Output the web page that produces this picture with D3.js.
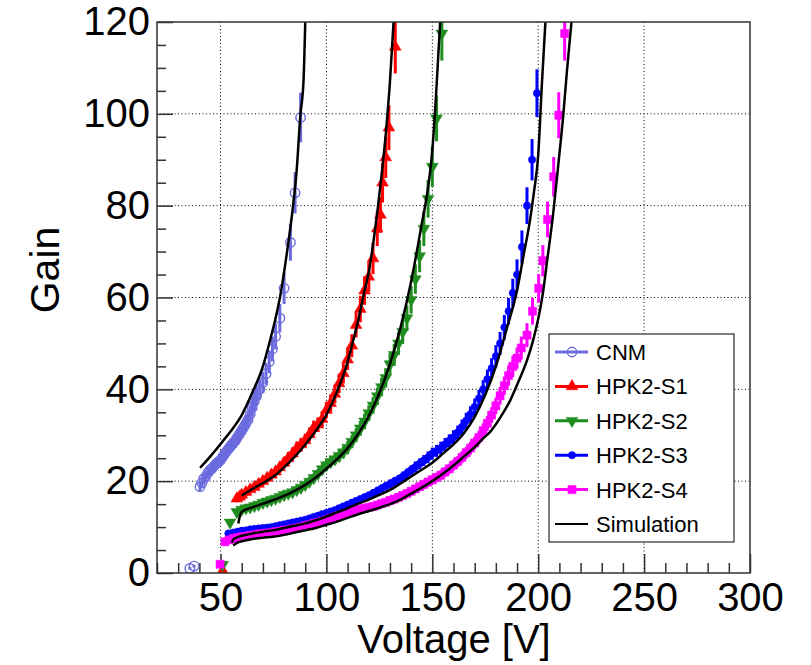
<!DOCTYPE html>
<html>
<head>
<meta charset="utf-8">
<script src="https://cdn.jsdelivr.net/npm/d3@7"></script>
<style>
  body { margin: 0; background: #fff; }
  text { font-family: "Liberation Sans", Arial, Helvetica, sans-serif; }
</style>
</head>
<body>
<svg width="811" height="665"></svg>
<script>
// measured points: [voltage, gain, error]
var cnmData = [[35.5,1.0,0.3],[37.5,1.5,0.3],[40.3,18.8,1.0],[41.2,19.6,1.1],[42,20.5,1.1],[43,21.0,1.2],[44,21.8,1.2],[45,22.4,1.2],[46,22.8,1.3],[47,23.3,1.3],[48,23.8,1.3],[49,24.2,1.3],[50,24.6,1.4],[51,25.3,1.4],[52,26.0,1.4],[53,26.6,1.5],[54,27.2,1.5],[55,27.8,1.5],[56,28.3,1.6],[57,28.8,1.6],[58,29.6,1.6],[59,30.3,1.7],[60,31.0,1.7],[61,31.8,1.7],[62,32.6,1.8],[63,33.4,1.8],[64,34.6,1.9],[65,36.0,2.0],[66,37.4,2.1],[67,38.6,2.1],[68.5,40.0,2.2],[70,41.5,2.3],[71.5,43.4,2.4],[73,46.0,2.5],[74.5,48.8,2.7],[76,51.5,2.8],[78,55.5,3.1],[80,62.0,3.4],[83,72.0,4.0],[85.2,82.8,4.5],[87.8,99.2,5.4]];

var s1Data = [[51,0.5,0.3],[57.7,16.2,0.8],[59,16.6,0.8],[60,17.0,0.9],[62,17.6,0.9],[64,18.2,0.9],[66,18.7,0.9],[68,19.4,1.0],[70,20.0,1.0],[72,20.7,1.0],[74,21.4,1.1],[76,22.1,1.1],[78,23.0,1.2],[80,24.0,1.2],[82,25.0,1.3],[84,26.0,1.3],[86,27.2,1.4],[88,28.0,1.4],[90,28.9,1.4],[92,30.2,1.5],[94,31.6,1.6],[96,32.3,1.6],[98,33.5,1.7],[100,35.5,1.8],[102,37.0,1.9],[104,39.0,2.0],[106,41.3,2.1],[108,43.5,2.2],[110,46.5,2.3],[112,49.5,2.5],[114,54.0,2.7],[116,57.5,2.9],[118,61.5,3.1],[120,64.5,3.2],[122,68.5,3.4],[124,75.0,3.8],[125.5,78.0,3.9],[126.5,85.0,4.3],[128,90.5,4.5],[129.5,97.0,4.9],[132.5,114.6,5.8]];

var s2Data = [[51,1.8,0.3],[54.5,11.0,0.6],[57.7,13.3,0.7],[60,13.8,0.7],[62,14.1,0.7],[64,14.3,0.7],[66,14.6,0.7],[68,14.9,0.7],[70,15.3,0.8],[72,15.6,0.8],[74,15.9,0.8],[76,16.2,0.8],[78,16.6,0.8],[80,17.0,0.9],[82,17.3,0.9],[84,17.6,0.9],[86,18.1,0.9],[88,18.6,0.9],[90,19.2,1.0],[92,19.9,1.0],[94,20.7,1.0],[96,21.6,1.1],[98,22.6,1.1],[100,23.5,1.2],[102,24.2,1.2],[104,24.8,1.2],[106,25.5,1.3],[108,26.3,1.3],[110,27.3,1.4],[112,28.6,1.4],[114,30.0,1.5],[116,31.5,1.6],[118,33.0,1.7],[120,34.8,1.7],[122,36.5,1.8],[124,38.5,1.9],[126,40.5,2.0],[128,42.5,2.1],[130,45.5,2.3],[132,47.5,2.4],[134,50.0,2.5],[136,52.5,2.6],[138,55.5,2.8],[140,59.5,3.0],[142,64.0,3.2],[144,69.0,3.5],[146,75.0,3.8],[148,81.5,4.1],[150,88.5,4.4],[152,99.0,5.0],[154.5,117.5,5.9]];

var s3Data = [[53.7,8.6,0.4],[56,8.8,0.4],[58,9.0,0.5],[60,9.2,0.5],[62,9.3,0.5],[64,9.5,0.5],[66,9.6,0.5],[68,9.7,0.5],[70,9.8,0.5],[72,9.9,0.5],[74,10.0,0.5],[76,10.2,0.5],[78,10.4,0.5],[80,10.6,0.5],[82,10.8,0.5],[84,11.0,0.6],[86,11.2,0.6],[88,11.4,0.6],[90,11.6,0.6],[92,11.9,0.6],[94,12.2,0.6],[96,12.5,0.6],[98,12.8,0.6],[100,13.1,0.7],[102,13.4,0.7],[104,13.7,0.7],[106,14.1,0.7],[108,14.5,0.7],[110,14.9,0.7],[112,15.3,0.8],[114,15.7,0.8],[116,16.1,0.8],[118,16.5,0.8],[120,16.9,0.8],[122,17.4,0.9],[124,17.9,0.9],[126,18.4,0.9],[128,18.9,0.9],[130,19.4,1.0],[132,19.9,1.0],[134,20.4,1.0],[136,21.0,1.1],[138,21.7,1.1],[140,22.4,1.1],[142,23.1,1.2],[144,23.8,1.2],[146,24.5,1.2],[148,25.2,1.3],[150,26.0,1.3],[152,26.6,1.3],[154,27.2,1.4],[156,28.0,1.4],[158,28.8,1.4],[160,29.6,1.5],[162,30.6,1.5],[164,31.8,1.6],[166,33.2,1.7],[168,34.6,1.7],[170,36.2,1.8],[172,38.0,1.9],[174,40.0,2.0],[176,42.2,2.1],[178,44.6,2.2],[180,47.2,2.4],[182,50.0,2.5],[184,53.5,2.7],[186,57.0,2.9],[188,61.0,3.1],[190,65.0,3.3],[192.3,71.0,3.6],[194.7,80.0,4.0],[197.1,90.0,4.5],[199.4,104.5,5.2]];

var s4Data = [[49.8,1.9,0.3],[52.1,6.8,0.4],[54,7.2,0.4],[56,7.5,0.4],[58,7.7,0.4],[60,7.9,0.4],[62,8.0,0.4],[64,8.2,0.4],[66,8.3,0.4],[68,8.5,0.4],[70,8.6,0.4],[72,8.7,0.4],[74,8.8,0.4],[76,9.0,0.5],[78,9.1,0.5],[80,9.3,0.5],[82,9.4,0.5],[84,9.6,0.5],[86,9.8,0.5],[88,10.0,0.5],[90,10.3,0.5],[92,10.5,0.5],[94,10.8,0.5],[96,11.0,0.6],[98,11.3,0.6],[100,11.6,0.6],[102,11.9,0.6],[104,12.2,0.6],[106,12.5,0.6],[108,12.8,0.6],[110,13.1,0.7],[112,13.4,0.7],[114,13.7,0.7],[116,13.9,0.7],[118,14.1,0.7],[120,14.3,0.7],[122,14.5,0.7],[124,14.8,0.7],[126,15.1,0.8],[128,15.4,0.8],[130,15.8,0.8],[132,16.1,0.8],[134,16.5,0.8],[136,16.9,0.8],[138,17.3,0.9],[140,17.8,0.9],[142,18.3,0.9],[144,18.8,0.9],[146,19.3,1.0],[148,19.8,1.0],[150,20.3,1.0],[152,20.8,1.0],[154,21.3,1.1],[156,22.0,1.1],[158,22.7,1.1],[160,23.5,1.2],[162,24.3,1.2],[164,25.2,1.3],[166,26.2,1.3],[168,27.2,1.4],[170,28.3,1.4],[172,29.5,1.5],[174,31.0,1.6],[176,32.6,1.6],[178,34.4,1.7],[180,36.4,1.8],[182,38.6,1.9],[184,40.8,2.0],[186,43.0,2.2],[188,45.0,2.3],[190,46.8,2.3],[192,49.0,2.5],[194.7,51.8,2.6],[197.3,57.0,2.9],[200.2,62.0,3.1],[202.2,68.0,3.4],[204.4,77.0,3.9],[207.3,86.3,4.3],[209.7,99.7,5.0],[212.5,117.5,5.9]];

// simulation curves: [voltage, gain]
var cnmSim = [[40.3,22.9],[45,25.3],[51.4,28.9],[55,31.0],[60,34.4],[64.8,39.1],[70,45.0],[73.4,50.7],[76,55.5],[78.1,60.1],[81.3,69.6],[84,79],[86,88],[87.6,99.2],[89.2,107.4],[90,120]];
var s1Sim = [[60,16.9],[65,18.3],[70,19.6],[75,21.0],[80,23.0],[85,25.3],[90,28.0],[95,31.0],[100,34.5],[105,39.5],[110,46.0],[112,49.5],[115,55.0],[118,61.5],[120,65.5],[122,71.5],[124,78.5],[126,86.5],[128,95.5],[130,107],[131.7,120]];
var s2Sim = [[58.4,10.8],[59.2,12.5],[60,13.3],[65,14.3],[70,15.1],[75,15.9],[80,16.8],[85,17.9],[90,19.2],[95,20.8],[100,22.7],[105,24.8],[110,27.2],[115,30.3],[120,34.2],[125,39.2],[130,45.5],[135,53.5],[140,63.5],[145,76],[148,84],[150,92],[152,106],[153.7,120]];
var s3Sim = [[55.3,6.6],[56,7.3],[58,7.8],[60,8.1],[65,8.6],[70,9.0],[75,9.3],[80,9.8],[85,10.3],[90,10.8],[95,11.5],[100,12.3],[105,13.2],[110,14.1],[115,15.1],[120,16.0],[125,17.0],[130,18.1],[135,19.5],[140,21.0],[145,22.5],[150,24.0],[155,26.0],[160,28.0],[165,30.5],[170,34.0],[175,38.8],[180,45.0],[182,48.0],[185,53.0],[190,61.5],[193,69.0],[196,76.5],[198,83],[200,91],[201.8,107],[203.4,120]];
var s4Sim = [[56,6.0],[58,6.6],[60,6.9],[65,7.4],[70,7.7],[75,7.9],[80,8.3],[85,8.8],[90,9.3],[95,9.8],[100,10.5],[105,11.2],[110,12.0],[115,12.8],[120,13.5],[125,14.2],[130,15.0],[135,16.0],[140,17.3],[145,18.6],[150,20.0],[155,21.6],[160,23.4],[165,25.4],[170,27.4],[174,29.3],[177.4,30.8],[182,33.8],[186.8,37.6],[190.5,41.5],[194.7,46.3],[197.5,50.5],[200.2,55.8],[202.3,61.2],[204.1,67.6],[207,78],[209.7,89.9],[211.8,99.5],[213.6,109.5],[215.7,120]];

var seriesNames = ["CNM", "HPK2-S1", "HPK2-S2", "HPK2-S3", "HPK2-S4"];
var seriesColors = ["#6b6bdf", "#ff0000", "#1e8c1e", "#0000ff", "#ff00ff"];
var seriesData = [cnmData, s1Data, s2Data, s3Data, s4Data];
var simCurves = [cnmSim, s1Sim, s2Sim, s3Sim, s4Sim];

var xMajor = [50, 100, 150, 200, 250, 300];
var xMinor = [20, 30, 40, 60, 70, 80, 90, 110, 120, 130, 140, 160, 170, 180, 190, 210, 220, 230, 240, 260, 270, 280, 290];
var yMajor = [0, 20, 40, 60, 80, 100, 120];
var yMinor = [5, 10, 15, 25, 30, 35, 45, 50, 55, 65, 70, 75, 85, 90, 95, 105, 110, 115];

var svg = d3.select("svg"),
  margin = {top: 22, left: 157},
  width = 593,
  height = 551;

svg.append("rect").attr("width", 811).attr("height", 665).attr("fill", "#fff");

var x = d3.scaleLinear().domain([20, 300]).range([0, width]),
  y = d3.scaleLinear().domain([0, 120]).range([height, 0]);

var g = svg.append("g")
  .attr("transform", "translate(" + margin.left + "," + margin.top + ")");

g.append("clipPath").attr("id", "plotclip")
  .append("rect").attr("width", width).attr("height", height);

// dotted grid on the major ticks
g.selectAll(".gx").data(xMajor.filter(function(v) { return v < 300; }))
  .enter().append("line")
  .attr("x1", function(d) { return x(d); }).attr("x2", function(d) { return x(d); })
  .attr("y1", 0).attr("y2", height)
  .attr("stroke", "#000").attr("stroke-width", 1).attr("stroke-dasharray", "1,2.5");
g.selectAll(".gy").data(yMajor.filter(function(v) { return v > 0 && v < 120; }))
  .enter().append("line")
  .attr("y1", function(d) { return y(d); }).attr("y2", function(d) { return y(d); })
  .attr("x1", 0).attr("x2", width)
  .attr("stroke", "#000").attr("stroke-width", 1).attr("stroke-dasharray", "1,2.5");

// axes, ticks point inwards like ROOT
var axisFont = "40px";
var xa = g.append("g").attr("transform", "translate(0," + height + ")")
  .call(d3.axisBottom(x).tickValues(xMajor).tickSize(-19).tickPadding(10).tickFormat(d3.format("d")));
var xm = g.append("g").attr("transform", "translate(0," + height + ")")
  .call(d3.axisBottom(x).tickValues(xMinor).tickSize(-10).tickFormat(""));
var ya = g.append("g")
  .call(d3.axisLeft(y).tickValues(yMajor).tickSize(-16).tickPadding(7).tickFormat(d3.format("d")));
var ym = g.append("g")
  .call(d3.axisLeft(y).tickValues(yMinor).tickSize(-9).tickFormat(""));
[xa, xm, ya, ym].forEach(function(a) {
  a.select(".domain").remove();
  a.selectAll("line").attr("stroke", "#333").attr("stroke-width", 1.5);
  a.selectAll("text").attr("fill", "#000").style("font-size", axisFont)
    .style("font-family", '"Liberation Sans", Arial, sans-serif');
});

var plot = g.append("g").attr("clip-path", "url(#plotclip)");

var symbols = [
  d3.symbol().type(d3.symbolCircle).size(70),
  d3.symbol().type(d3.symbolTriangle).size(60),
  d3.symbol().type(d3.symbolTriangle).size(60),
  d3.symbol().type(d3.symbolCircle).size(42),
  d3.symbol().type(d3.symbolSquare).size(66)
];

function drawMarker(sel, i) {
  sel.append("path")
    .attr("d", symbols[i]())
    .attr("transform", function(d) {
      var t = "translate(" + x(d[0]) + "," + y(d[1]) + ")";
      return i == 2 ? t + " rotate(180)" : t;
    })
    .attr("fill", i == 0 ? "none" : seriesColors[i])
    .attr("stroke", seriesColors[i])
    .attr("stroke-width", i == 0 ? 1.4 : 0.5);
}

seriesData.forEach(function(data, i) {
  var s = plot.append("g");
  s.selectAll("line").data(data).enter().append("line")
    .attr("x1", function(d) { return x(d[0]); })
    .attr("x2", function(d) { return x(d[0]); })
    .attr("y1", function(d) { return y(d[1] - d[2]); })
    .attr("y2", function(d) { return y(d[1] + d[2]); })
    .attr("stroke", seriesColors[i]).attr("stroke-width", 3);
  var m = s.selectAll(".pt").data(data).enter().append("g");
  drawMarker(m, i);
});

var line = d3.line()
  .x(function(d) { return x(d[0]); })
  .y(function(d) { return y(d[1]); })
  .curve(d3.curveMonotoneX);

simCurves.forEach(function(c) {
  plot.append("path").datum(c)
    .attr("d", line)
    .attr("fill", "none").attr("stroke", "#000").attr("stroke-width", 2.5);
});

// frame
g.append("rect").attr("width", width).attr("height", height)
  .attr("fill", "none").attr("stroke", "#333").attr("stroke-width", 1.5);

// axis titles
svg.append("text").attr("x", 454).attr("y", 653).attr("text-anchor", "middle")
  .style("font-size", "40px").text("Voltage [V]");
svg.append("text").attr("transform", "translate(59,270) rotate(-90)")
  .attr("text-anchor", "middle").style("font-size", "41px").text("Gain");

// legend
var lg = svg.append("g").attr("transform", "translate(549,334)");
lg.append("rect").attr("width", 185).attr("height", 208)
  .attr("fill", "#fff").attr("stroke", "#000").attr("stroke-width", 1);
var legendNames = seriesNames.concat(["Simulation"]);
legendNames.forEach(function(name, i) {
  var row = lg.append("g").attr("transform", "translate(0," + (18 + i * 34.4) + ")");
  var col = i < 5 ? seriesColors[i] : "#000";
  row.append("line").attr("x1", 6).attr("x2", 39).attr("y1", 0).attr("y2", 0)
    .attr("stroke", col).attr("stroke-width", i < 5 ? 3 : 2);
  if (i < 5) {
    var mk = row.selectAll(".mk").data([[0, 0]]).enter().append("g")
      .attr("transform", "translate(" + (23 - x(0)) + "," + (-y(0)) + ")");
    drawMarker(mk, i);
  }
  row.append("text").attr("x", 47).attr("y", 8).style("font-size", "22px").text(name);
});
</script>
</body>
</html>
